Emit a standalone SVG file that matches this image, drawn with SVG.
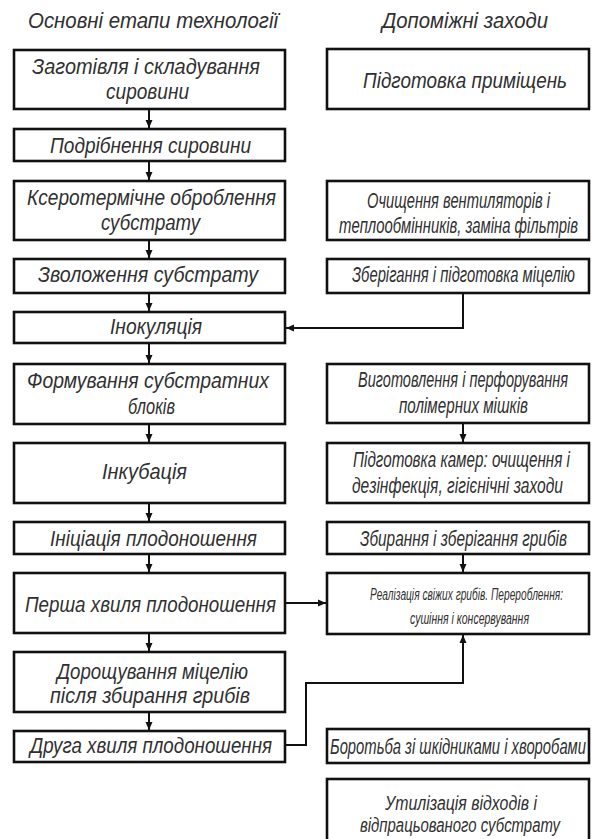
<svg xmlns="http://www.w3.org/2000/svg" width="592" height="839" viewBox="0 0 592 839">
<defs>
<style>
.bg{fill:#ffffff}
.box{fill:#ffffff;stroke:#111;stroke-width:2.6}
.t{font-family:"Liberation Sans Narrow","Liberation Sans","DejaVu Sans",sans-serif;font-style:italic;font-size:22px;fill:#303030;text-anchor:start}
.h{font-size:22px}
.s{font-size:16px}
.m{font-size:20px}
.c{fill:none;stroke:#111;stroke-width:2}
</style>
<marker id="ah" markerUnits="userSpaceOnUse" markerWidth="9" markerHeight="8" refX="8" refY="4" orient="auto">
<path d="M0,0.5 L8,4 L0,7.5 z" fill="#111"/>
</marker>
</defs>
<rect class="bg" x="0" y="0" width="592" height="839"/>

<g id="title-left"><text class="t h" x="28" y="28" textLength="250" lengthAdjust="spacingAndGlyphs">Основні етапи технології</text></g>
<g id="title-right"><text class="t h" x="382" y="28" textLength="166" lengthAdjust="spacingAndGlyphs">Допоміжні заходи</text></g>

<g id="L1"><rect class="box" x="14" y="50" width="271" height="59"/>
<text class="t" x="32" y="74" textLength="228" lengthAdjust="spacingAndGlyphs">Заготівля і складування</text>
<text class="t" x="106" y="99" textLength="83" lengthAdjust="spacingAndGlyphs">сировини</text></g>

<g id="L2"><rect class="box" x="14" y="129" width="271" height="32"/>
<text class="t" x="50" y="153" textLength="201" lengthAdjust="spacingAndGlyphs">Подрібнення сировини</text></g>

<g id="L3"><rect class="box" x="14" y="181" width="271" height="59"/>
<text class="t" x="27" y="205" textLength="249" lengthAdjust="spacingAndGlyphs">Ксеротермічне оброблення</text>
<text class="t" x="101" y="230" textLength="99" lengthAdjust="spacingAndGlyphs">субстрату</text></g>

<g id="L4"><rect class="box" x="14" y="259" width="271" height="34"/>
<text class="t" x="38" y="282" textLength="220" lengthAdjust="spacingAndGlyphs">Зволоження субстрату</text></g>

<g id="L5"><rect class="box" x="14" y="312" width="271" height="31"/>
<text class="t" x="110" y="334" textLength="92" lengthAdjust="spacingAndGlyphs">Інокуляція</text></g>

<g id="L6"><rect class="box" x="14" y="364" width="271" height="60"/>
<text class="t" x="27" y="388" textLength="242" lengthAdjust="spacingAndGlyphs">Формування субстратних</text>
<text class="t" x="128" y="414" textLength="47" lengthAdjust="spacingAndGlyphs">блоків</text></g>

<g id="L7"><rect class="box" x="14" y="443" width="271" height="60"/>
<text class="t" x="102" y="479" textLength="85" lengthAdjust="spacingAndGlyphs">Інкубація</text></g>

<g id="L8"><rect class="box" x="14" y="522" width="271" height="32"/>
<text class="t" x="50" y="546" textLength="207" lengthAdjust="spacingAndGlyphs">Ініціація плодоношення</text></g>

<g id="L9"><rect class="box" x="14" y="573" width="271" height="60"/>
<text class="t" x="25" y="612" textLength="251" lengthAdjust="spacingAndGlyphs">Перша хвиля плодоношення</text></g>

<g id="L10"><rect class="box" x="14" y="652" width="271" height="60"/>
<text class="t" x="57" y="679" textLength="191" lengthAdjust="spacingAndGlyphs">Дорощування міцелію</text>
<text class="t" x="50" y="703" textLength="200" lengthAdjust="spacingAndGlyphs">після збирання грибів</text></g>

<g id="L11"><rect class="box" x="14" y="731" width="271" height="31"/>
<text class="t" x="30" y="753" textLength="242" lengthAdjust="spacingAndGlyphs">Друга хвиля плодоношення</text></g>

<g id="R1"><rect class="box" x="327" y="49" width="262" height="60"/>
<text class="t" x="363" y="88" textLength="204" lengthAdjust="spacingAndGlyphs">Підготовка приміщень</text></g>

<g id="R2"><rect class="box" x="327" y="181" width="262" height="59"/>
<text class="t" x="367" y="208" textLength="183" lengthAdjust="spacingAndGlyphs">Очищення вентиляторів і</text>
<text class="t" x="339" y="233" textLength="239" lengthAdjust="spacingAndGlyphs">теплообмінників, заміна фільтрів</text></g>

<g id="R3"><rect class="box" x="327" y="259" width="262" height="34"/>
<text class="t" x="352" y="282" textLength="223" lengthAdjust="spacingAndGlyphs">Зберігання і підготовка міцелію</text></g>

<g id="R4"><rect class="box" x="327" y="364" width="262" height="59"/>
<text class="t" x="358" y="387" textLength="210" lengthAdjust="spacingAndGlyphs">Виготовлення і перфорування</text>
<text class="t" x="399" y="413" textLength="129" lengthAdjust="spacingAndGlyphs">полімерних мішків</text></g>

<g id="R5"><rect class="box" x="327" y="443" width="262" height="60"/>
<text class="t" x="353" y="467" textLength="217" lengthAdjust="spacingAndGlyphs">Підготовка камер: очищення і</text>
<text class="t" x="352" y="493" textLength="211" lengthAdjust="spacingAndGlyphs">дезінфекція, гігієнічні заходи</text></g>

<g id="R6"><rect class="box" x="327" y="522" width="262" height="32"/>
<text class="t" x="360" y="546" textLength="207" lengthAdjust="spacingAndGlyphs">Збирання і зберігання грибів</text></g>

<g id="R7"><rect class="box" x="327" y="573" width="262" height="61"/>
<text class="t s" x="370" y="600" textLength="193" lengthAdjust="spacingAndGlyphs">Реалізація свіжих грибів. Перероблення:</text>
<text class="t s" x="410" y="624" textLength="119" lengthAdjust="spacingAndGlyphs">сушіння і консервування</text></g>

<g id="R8"><rect class="box" x="327" y="729" width="262" height="34"/>
<text class="t" x="330" y="754" textLength="256" lengthAdjust="spacingAndGlyphs">Боротьба зі шкідниками і хворобами</text></g>

<g id="R9"><rect class="box" x="327" y="779" width="262" height="70"/>
<text class="t m" x="385" y="810" textLength="152" lengthAdjust="spacingAndGlyphs">Утилізація відходів і</text>
<text class="t m" x="360" y="832" textLength="200" lengthAdjust="spacingAndGlyphs">відпрацьованого субстрату</text></g>

<g id="connectors">
<line class="c" x1="149" y1="110" x2="149" y2="128" marker-end="url(#ah)"/>
<line class="c" x1="149" y1="162" x2="149" y2="180" marker-end="url(#ah)"/>
<line class="c" x1="149" y1="241" x2="149" y2="258" marker-end="url(#ah)"/>
<line class="c" x1="149" y1="294" x2="149" y2="311" marker-end="url(#ah)"/>
<line class="c" x1="149" y1="344" x2="149" y2="363" marker-end="url(#ah)"/>
<line class="c" x1="149" y1="425" x2="149" y2="442" marker-end="url(#ah)"/>
<line class="c" x1="149" y1="504" x2="149" y2="521" marker-end="url(#ah)"/>
<line class="c" x1="149" y1="555" x2="149" y2="572" marker-end="url(#ah)"/>
<line class="c" x1="149" y1="634" x2="149" y2="651" marker-end="url(#ah)"/>
<line class="c" x1="149" y1="713" x2="149" y2="730" marker-end="url(#ah)"/>
<polyline class="c" points="463,294 463,328 286,328" marker-end="url(#ah)"/>
<line class="c" x1="463" y1="424" x2="463" y2="442" marker-end="url(#ah)"/>
<line class="c" x1="463" y1="555" x2="463" y2="572" marker-end="url(#ah)"/>
<line class="c" x1="286" y1="603" x2="326" y2="603" marker-end="url(#ah)"/>
<polyline class="c" points="286,745 306,745 306,683 463,683 463,635" marker-end="url(#ah)"/>
</g>
</svg>
